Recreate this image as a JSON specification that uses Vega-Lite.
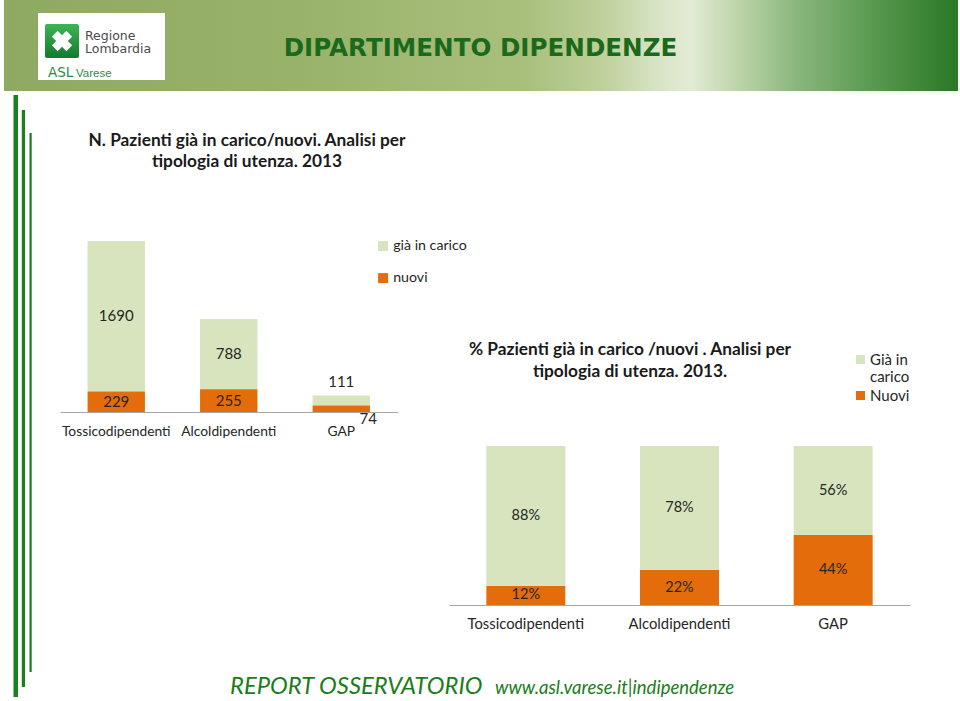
{
  "$schema": "https://vega.github.io/schema/vega-lite/v6.json",
  "width": 960,
  "height": 701,
  "padding": 0,
  "autosize": {"type": "none"},
  "background": "white",
  "config": {"view": {"stroke": null}, "font": "Lato"},
  "resolve": {
    "scale": {"x": "independent", "y": "independent", "color": "independent"},
    "axis": {"x": "independent", "y": "independent"},
    "legend": {"color": "independent"}
  },
  "layer": [
    {
      "data": {"values": [{"part": "banner"}]},
      "mark": {"type": "rect", "fill": {"gradient": "linear", "x1": 0, "x2": 1, "y1": 0, "y2": 0, "stops": [
        {"offset": 0, "color": "#8ea961"},
        {"offset": 0.3, "color": "#98b26a"},
        {"offset": 0.55, "color": "#a9c07d"},
        {"offset": 0.63, "color": "#bfd19c"},
        {"offset": 0.68, "color": "#d6e2c2"},
        {"offset": 0.72, "color": "#e3ebd6"},
        {"offset": 0.77, "color": "#bcd4a8"},
        {"offset": 0.83, "color": "#8bb77d"},
        {"offset": 0.9, "color": "#5f9d55"},
        {"offset": 1, "color": "#2a7826"}
      ]}},
      "encoding": {
        "x": {"field": "part", "type": "nominal", "axis": null, "scale": {"range": [4, 958], "paddingInner": 0, "paddingOuter": 0}},
        "y": {"field": "part", "type": "nominal", "axis": null, "scale": {"range": [0, 91], "paddingInner": 0, "paddingOuter": 0}}
      }
    },
    {
      "data": {"values": [{"part": "logo box"}]},
      "mark": {"type": "rect", "fill": "#ffffff"},
      "encoding": {
        "x": {"field": "part", "type": "nominal", "axis": null, "scale": {"range": [38, 165], "paddingInner": 0, "paddingOuter": 0}},
        "y": {"field": "part", "type": "nominal", "axis": null, "scale": {"range": [13, 80], "paddingInner": 0, "paddingOuter": 0}}
      }
    },
    {
      "data": {"values": [{"part": "logo icon"}]},
      "mark": {"type": "rect", "cornerRadius": 2, "fill": {"gradient": "linear", "x1": 0, "x2": 0, "y1": 0, "y2": 1, "stops": [
        {"offset": 0, "color": "#3db556"},
        {"offset": 1, "color": "#137a2e"}
      ]}},
      "encoding": {
        "x": {"field": "part", "type": "nominal", "axis": null, "scale": {"range": [45, 79], "paddingInner": 0, "paddingOuter": 0}},
        "y": {"field": "part", "type": "nominal", "axis": null, "scale": {"range": [24, 58], "paddingInner": 0, "paddingOuter": 0}}
      }
    },
    {
      "data": {"values": [{"part": "logo cross"}]},
      "mark": {"type": "point", "shape": "cross", "angle": 45, "filled": true, "fill": "#ffffff", "opacity": 1, "size": 420},
      "encoding": {
        "x": {"field": "part", "type": "nominal", "axis": null, "scale": {"range": [62, 62], "padding": 0}},
        "y": {"field": "part", "type": "nominal", "axis": null, "scale": {"range": [41, 41], "padding": 0}}
      }
    },
    {
      "data": {"values": [{"part": "logo name", "label": "Regione\nLombardia"}]},
      "mark": {"type": "text", "align": "left", "baseline": "alphabetic", "lineBreak": "\n", "lineHeight": 13.5, "font": "DejaVu Sans", "fontSize": 12.5, "color": "#4a4a4a"},
      "encoding": {
        "x": {"field": "part", "type": "nominal", "axis": null, "scale": {"range": [85, 85], "padding": 0}},
        "y": {"field": "part", "type": "nominal", "axis": null, "scale": {"range": [39.5, 39.5], "padding": 0}},
        "text": {"field": "label"}
      }
    },
    {
      "data": {"values": [{"part": "asl", "label": "ASL"}]},
      "mark": {"type": "text", "align": "left", "baseline": "alphabetic", "font": "DejaVu Sans", "fontSize": 13.5, "color": "#2a8a4a"},
      "encoding": {
        "x": {"field": "part", "type": "nominal", "axis": null, "scale": {"range": [48, 48], "padding": 0}},
        "y": {"field": "part", "type": "nominal", "axis": null, "scale": {"range": [77, 77], "padding": 0}},
        "text": {"field": "label"}
      }
    },
    {
      "data": {"values": [{"part": "varese", "label": "Varese"}]},
      "mark": {"type": "text", "align": "left", "baseline": "alphabetic", "font": "Liberation Sans", "fontSize": 11.5, "color": "#2a8a4a"},
      "encoding": {
        "x": {"field": "part", "type": "nominal", "axis": null, "scale": {"range": [76, 76], "padding": 0}},
        "y": {"field": "part", "type": "nominal", "axis": null, "scale": {"range": [77, 77], "padding": 0}},
        "text": {"field": "label"}
      }
    },
    {
      "data": {"values": [{"part": "header", "label": "DIPARTIMENTO DIPENDENZE"}]},
      "mark": {"type": "text", "align": "center", "baseline": "alphabetic", "font": "DejaVu Sans", "fontWeight": "bold", "fontSize": 24.6, "color": "#1b6a1b"},
      "encoding": {
        "x": {"field": "part", "type": "nominal", "axis": null, "scale": {"range": [480.5, 480.5], "padding": 0}},
        "y": {"field": "part", "type": "nominal", "axis": null, "scale": {"range": [55.5, 55.5], "padding": 0}},
        "text": {"field": "label"}
      }
    },
    {
      "data": {"values": [{"part": "stripe 1"}]},
      "mark": {"type": "rect", "fill": "#1b7f1b"},
      "encoding": {
        "x": {"field": "part", "type": "nominal", "axis": null, "scale": {"range": [13.5, 18], "paddingInner": 0, "paddingOuter": 0}},
        "y": {"field": "part", "type": "nominal", "axis": null, "scale": {"range": [95, 697], "paddingInner": 0, "paddingOuter": 0}}
      }
    },
    {
      "data": {"values": [{"part": "stripe 2"}]},
      "mark": {"type": "rect", "fill": "#1b7f1b"},
      "encoding": {
        "x": {"field": "part", "type": "nominal", "axis": null, "scale": {"range": [21.8, 25], "paddingInner": 0, "paddingOuter": 0}},
        "y": {"field": "part", "type": "nominal", "axis": null, "scale": {"range": [110, 687], "paddingInner": 0, "paddingOuter": 0}}
      }
    },
    {
      "data": {"values": [{"part": "stripe 3"}]},
      "mark": {"type": "rect", "fill": "#1b7f1b"},
      "encoding": {
        "x": {"field": "part", "type": "nominal", "axis": null, "scale": {"range": [29.5, 31.7], "paddingInner": 0, "paddingOuter": 0}},
        "y": {"field": "part", "type": "nominal", "axis": null, "scale": {"range": [133, 672], "paddingInner": 0, "paddingOuter": 0}}
      }
    },
    {
      "data": {"values": [
        {"chart": "left", "label": "N. Pazienti già in carico/nuovi. Analisi per\ntipologia di utenza. 2013"},
        {"chart": "right", "label": "% Pazienti già in carico /nuovi . Analisi per\ntipologia di utenza. 2013."}
      ]},
      "mark": {"type": "text", "align": "center", "baseline": "alphabetic", "lineBreak": "\n", "lineHeight": 21.5, "font": "Lato", "fontWeight": "bold", "fontSize": 17.3, "color": "#1a1a1a"},
      "encoding": {
        "x": {"field": "chart", "type": "nominal", "axis": null, "scale": {"domain": ["left", "right"], "range": [247, 630], "padding": 0}},
        "y": {"field": "chart", "type": "nominal", "axis": null, "scale": {"domain": ["left", "right"], "range": [145.5, 355], "padding": 0}},
        "text": {"field": "label"}
      }
    },
    {
      "data": {"values": [
        {"cat": "Tossicodipendenti", "serie": "già in carico", "n": 1690},
        {"cat": "Tossicodipendenti", "serie": "nuovi", "n": 229},
        {"cat": "Alcoldipendenti", "serie": "già in carico", "n": 788},
        {"cat": "Alcoldipendenti", "serie": "nuovi", "n": 255},
        {"cat": "GAP", "serie": "già in carico", "n": 111},
        {"cat": "GAP", "serie": "nuovi", "n": 74}
      ]},
      "transform": [
        {"stack": "n", "groupby": ["cat"], "sort": [{"field": "serie", "order": "descending"}], "as": ["n0", "n1"]},
        {"calculate": "(datum.n0 + datum.n1) / 2", "as": "mid"}
      ],
      "encoding": {
        "x": {"field": "cat", "type": "nominal", "scale": {"domain": ["Tossicodipendenti", "Alcoldipendenti", "GAP"], "range": [60, 397.5], "paddingInner": 0.49, "paddingOuter": 0.245},
          "axis": {"orient": "bottom", "offset": -289, "title": null, "ticks": false, "tickSize": 0, "grid": false, "domainColor": "#a6a6a6", "domainWidth": 1, "labelAngle": 0, "labelFont": "Lato", "labelFontSize": 13.8, "labelColor": "#262626", "labelPadding": 12.5}}
      },
      "layer": [
        {
          "mark": {"type": "bar"},
          "encoding": {
            "y": {"field": "n1", "type": "quantitative", "scale": {"domain": [0, 1919], "range": [412, 241], "nice": false, "zero": true}, "axis": null},
            "y2": {"field": "n0"},
            "color": {"field": "serie", "type": "nominal", "scale": {"domain": ["già in carico", "nuovi"], "range": ["#d7e4bd", "#e46c0a"]},
              "legend": {"orient": "none", "legendX": 376, "legendY": 239, "title": null, "padding": 0, "symbolType": "square", "symbolSize": 100, "symbolStrokeWidth": 0, "labelFont": "Lato", "labelFontSize": 14.2, "labelColor": "#262626", "labelOffset": 3, "rowPadding": 17}}
          }
        },
        {
          "transform": [{"filter": "datum.cat != 'GAP'"}],
          "mark": {"type": "text", "baseline": "middle", "font": "Lato", "fontSize": 15, "color": "#262626"},
          "encoding": {"y": {"field": "mid", "type": "quantitative", "axis": null}, "text": {"field": "n", "type": "quantitative"}}
        },
        {
          "transform": [{"filter": "datum.cat == 'GAP' && datum.serie == 'già in carico'"}],
          "mark": {"type": "text", "baseline": "middle", "dy": -14, "font": "Lato", "fontSize": 15, "color": "#262626"},
          "encoding": {"y": {"field": "n1", "type": "quantitative", "axis": null}, "text": {"field": "n", "type": "quantitative"}}
        },
        {
          "transform": [{"filter": "datum.cat == 'GAP' && datum.serie == 'nuovi'"}],
          "mark": {"type": "text", "baseline": "middle", "dx": 27, "dy": 7, "font": "Lato", "fontSize": 15, "color": "#262626"},
          "encoding": {"y": {"field": "n0", "type": "quantitative", "axis": null}, "text": {"field": "n", "type": "quantitative"}}
        }
      ]
    },
    {
      "data": {"values": [
        {"cat": "Tossicodipendenti", "serie": "Già in carico", "pct": 88},
        {"cat": "Tossicodipendenti", "serie": "Nuovi", "pct": 12},
        {"cat": "Alcoldipendenti", "serie": "Già in carico", "pct": 78},
        {"cat": "Alcoldipendenti", "serie": "Nuovi", "pct": 22},
        {"cat": "GAP", "serie": "Già in carico", "pct": 56},
        {"cat": "GAP", "serie": "Nuovi", "pct": 44}
      ]},
      "transform": [
        {"stack": "pct", "groupby": ["cat"], "sort": [{"field": "serie", "order": "descending"}], "as": ["p0", "p1"]},
        {"calculate": "(datum.p0 + datum.p1) / 2", "as": "mid"},
        {"calculate": "datum.pct + '%'", "as": "lab"}
      ],
      "encoding": {
        "x": {"field": "cat", "type": "nominal", "scale": {"domain": ["Tossicodipendenti", "Alcoldipendenti", "GAP"], "range": [449, 910], "paddingInner": 0.486, "paddingOuter": 0.243},
          "axis": {"orient": "bottom", "offset": -96, "title": null, "ticks": false, "tickSize": 0, "grid": false, "domainColor": "#a6a6a6", "domainWidth": 1, "labelAngle": 0, "labelFont": "Lato", "labelFontSize": 14.8, "labelColor": "#262626", "labelPadding": 11.5}}
      },
      "layer": [
        {
          "mark": {"type": "bar"},
          "encoding": {
            "y": {"field": "p1", "type": "quantitative", "scale": {"domain": [0, 100], "range": [605, 446], "nice": false, "zero": true}, "axis": null},
            "y2": {"field": "p0"},
            "color": {"field": "serie", "type": "nominal", "scale": {"domain": ["Già in carico", "Nuovi"], "range": ["#d7e4bd", "#e46c0a"]},
              "legend": {"orient": "none", "legendX": 853, "legendY": 352, "title": null, "padding": 0, "symbolType": "square", "symbolSize": 81, "symbolStrokeWidth": 0, "labelFont": "Lato", "labelFontSize": 15, "labelColor": "#262626", "labelOffset": 2, "rowPadding": 3,
                "labelExpr": "datum.label == 'Già in carico' ? ['Già in', 'carico'] : datum.label"}}
          }
        },
        {
          "mark": {"type": "text", "baseline": "middle", "font": "Lato", "fontSize": 14.5, "color": "#262626"},
          "encoding": {"y": {"field": "mid", "type": "quantitative", "axis": null}, "text": {"field": "lab", "type": "nominal"}}
        }
      ]
    },
    {
      "data": {"values": [{"part": "footer", "label": "REPORT OSSERVATORIO"}]},
      "mark": {"type": "text", "align": "left", "baseline": "alphabetic", "font": "Lato", "fontStyle": "italic", "fontSize": 23.8, "color": "#1a7d1a"},
      "encoding": {
        "x": {"field": "part", "type": "nominal", "axis": null, "scale": {"range": [230, 230], "padding": 0}},
        "y": {"field": "part", "type": "nominal", "axis": null, "scale": {"range": [694, 694], "padding": 0}},
        "text": {"field": "label"}
      }
    },
    {
      "data": {"values": [{"part": "footer url", "label": "www.asl.varese.it|indipendenze"}]},
      "mark": {"type": "text", "align": "left", "baseline": "alphabetic", "font": "Lato", "fontStyle": "italic", "fontSize": 18.5, "color": "#1a7d1a"},
      "encoding": {
        "x": {"field": "part", "type": "nominal", "axis": null, "scale": {"range": [495, 495], "padding": 0}},
        "y": {"field": "part", "type": "nominal", "axis": null, "scale": {"range": [694, 694], "padding": 0}},
        "text": {"field": "label"}
      }
    }
  ]
}
